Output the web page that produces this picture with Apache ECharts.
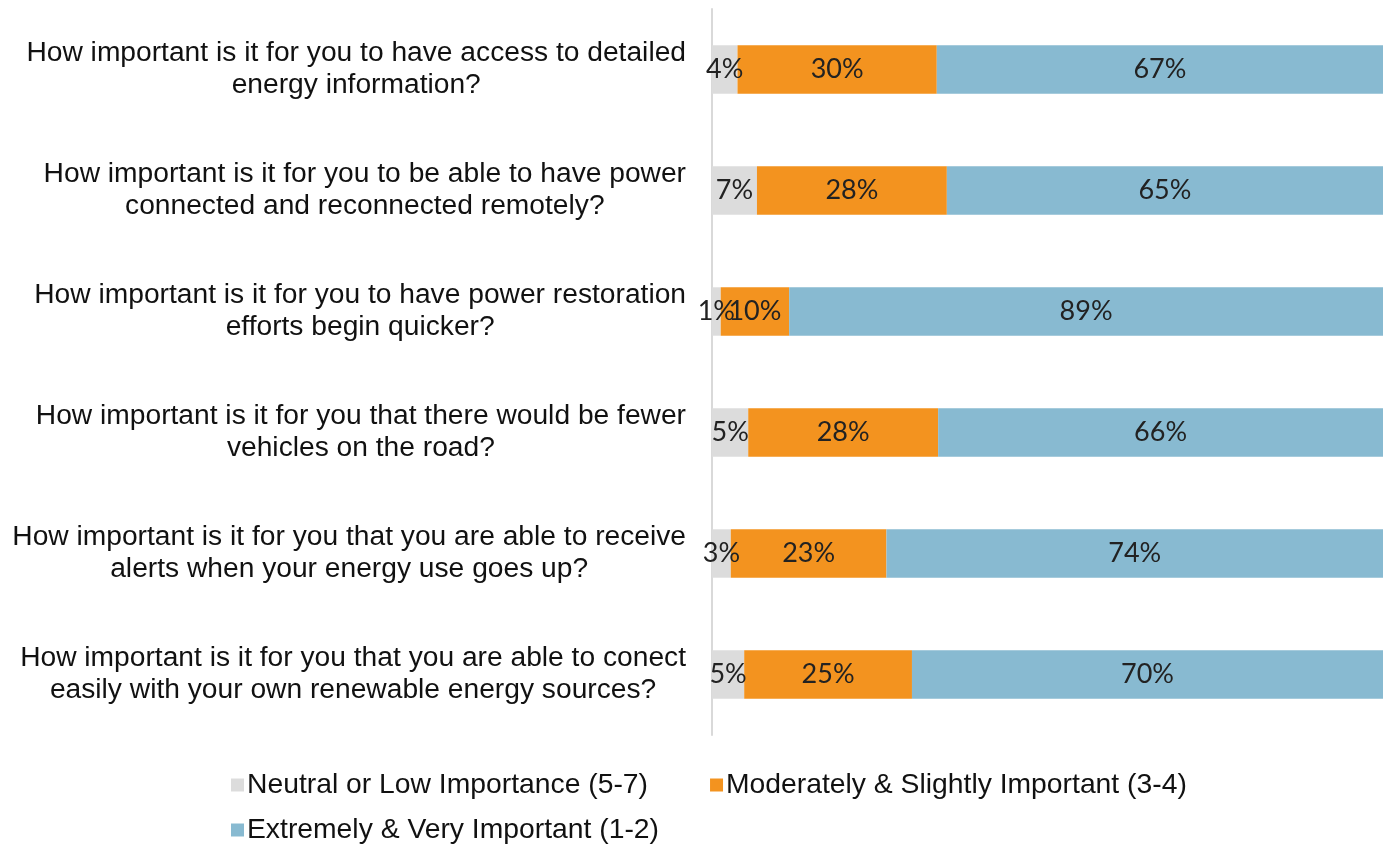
<!DOCTYPE html>
<html>
<head>
<meta charset="utf-8">
<script src="https://cdn.jsdelivr.net/npm/echarts@6/dist/echarts.min.js"></script>
<style>
html,body{margin:0;padding:0;background:#fff;}
#chart{width:1390px;height:844px;}
</style>
</head>
<body>
<div id="chart"></div>
<script>
const categories = [
  'How important is it for you to have access to detailed\nenergy information?',
  'How important is it for you to be able to have power\nconnected and reconnected remotely?',
  'How important is it for you to have power restoration\nefforts begin quicker?',
  'How important is it for you that there would be fewer\nvehicles on the road?',
  'How important is it for you that you are able to receive\nalerts when your energy use goes up?',
  'How important is it for you that you are able to conect\neasily with your own renewable energy sources?'
];
const seriesNames = [
  'Neutral or Low Importance (5-7)',
  'Moderately & Slightly Important (3-4)',
  'Extremely & Very Important (1-2)'
];
const neutral  = [3.8, 6.7, 1.3, 5.4, 2.8, 4.8];
const moderate = [29.7, 28.3, 10.2, 28.3, 23.2, 25.0];
const extreme  = [66.5, 65.0, 88.5, 66.3, 74.0, 70.2];

const colors = ['#dcdcdc', '#f3931f', '#88bad1'];
const chart = echarts.init(document.getElementById('chart'));

function mk(name, data, color) {
  return {
    name: name,
    type: 'bar',
    stack: 'total',
    data: data,
    barCategoryGap: '60%',
    itemStyle: { color: color },
    label: {
      show: true,
      position: 'inside',
      formatter: p => Math.round(p.value) + '%',
      fontFamily: 'Lato',
      fontSize: 27,
      color: '#222222'
    },
    emphasis: { disabled: true }
  };
}

chart.setOption({
  animation: false,
  backgroundColor: '#ffffff',
  grid: { left: 712, right: 7, top: 9, bottom: 109, containLabel: false },
  xAxis: {
    type: 'value', min: 0, max: 100,
    axisLine: { show: false }, axisTick: { show: false },
    axisLabel: { show: false }, splitLine: { show: false }
  },
  yAxis: {
    type: 'category',
    inverse: true,
    data: categories,
    axisLine: { show: true, lineStyle: { color: '#d9d9d9', width: 2 } },
    axisTick: { show: false },
    axisLabel: {
      align: 'right',
      margin: 26,
      formatter: v => v.split('\n').map(l => '{a|' + l + '}').join('\n'),
      rich: {
        a: { align: 'center', fontFamily: 'Liberation Sans', fontSize: 28.2, lineHeight: 32, color: '#111111' }
      }
    }
  },
  legend: [
    {
      data: [seriesNames[0], seriesNames[1]],
      left: 226, top: 766,
      itemWidth: 13, itemHeight: 13, itemGap: 62,
      icon: 'rect',
      textStyle: { fontFamily: 'Liberation Sans', fontSize: 28.3, color: '#111111', padding: [0, 0, 0, -2] }
    },
    {
      data: [seriesNames[2]],
      left: 226, top: 811,
      itemWidth: 13, itemHeight: 13,
      icon: 'rect',
      textStyle: { fontFamily: 'Liberation Sans', fontSize: 28.3, color: '#111111', padding: [0, 0, 0, -2] }
    }
  ],
  series: [
    mk(seriesNames[0], neutral, colors[0]),
    mk(seriesNames[1], moderate, colors[1]),
    mk(seriesNames[2], extreme, colors[2])
  ]
});
</script>
</body>
</html>
